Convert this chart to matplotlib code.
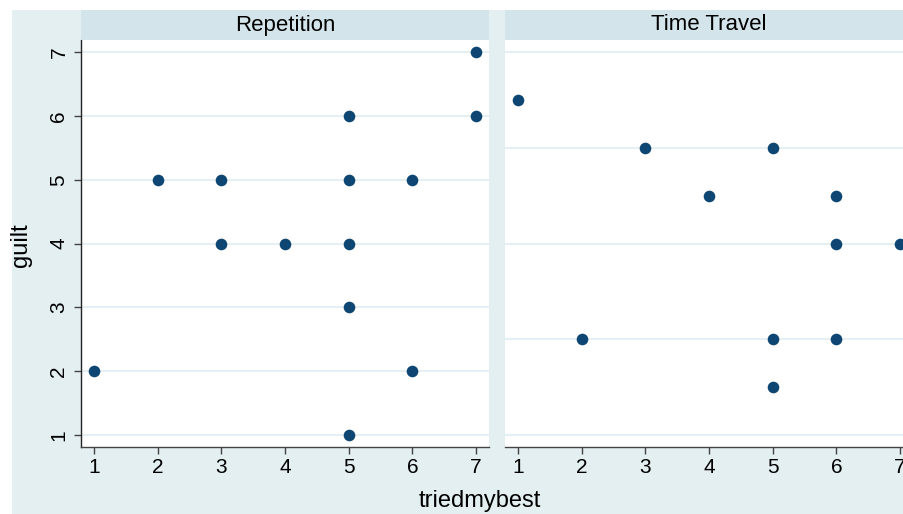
import numpy as np
import matplotlib
matplotlib.use("Agg")
import matplotlib.pyplot as plt
from matplotlib.patches import Rectangle

plt.rcParams['font.family'] = ['Liberation Sans', 'DejaVu Sans']

# data
panels = ['Repetition', 'Time Travel']
rep_x = [1, 2, 3, 3, 4, 5, 5, 5, 5, 5, 6, 6, 7, 7]
rep_y = [2, 5, 5, 4, 4, 6, 5, 4, 3, 1, 5, 2, 7, 6]
tt_x = [1, 2, 3, 4, 5, 5, 5, 6, 6, 6, 7]
tt_y = [6.25, 2.5, 5.5, 4.75, 5.5, 2.5, 1.75, 4.75, 4, 2.5, 4]
x_ticks = [1, 2, 3, 4, 5, 6, 7]
rep_grid = [1, 2, 3, 4, 5, 6, 7]
tt_grid = [1, 2.5, 4, 5.5, 7]

bg = '#E3EFF1'
strip_col = '#D3E5EB'
grid_col = '#E6EFF3'
dot = '#0E4673'
axis_col = '#444444'

W, H = 904, 514
fig = plt.figure(figsize=(W / 100, H / 100), dpi=100, facecolor='white')
fig.patches.append(Rectangle((12 / W, 0), 2, 1 - 10 / H, transform=fig.transFigure,
                             facecolor=bg, edgecolor='none', zorder=-10))

def box(x0, y0, x1, y1):
    return [x0 / W, 1 - y1 / H, (x1 - x0) / W, (y1 - y0) / H]

lefts = [81, 505]
data = [(rep_x, rep_y, rep_grid), (tt_x, tt_y, tt_grid)]

for i, (name, (xs, ys, grid)) in enumerate(zip(panels, data)):
    x0 = lefts[i]
    ax = fig.add_axes(box(x0, 40, x0 + 408, 447))
    ax.set_facecolor('white')
    ax.set_xlim(0.796, 7.204)
    ax.set_ylim(0.81, 7.19)
    for g in grid:
        ax.axhline(g, color=grid_col, lw=1.6, zorder=1)
    ax.scatter(xs, ys, s=70, color=dot, zorder=3, linewidths=0)
    for s in ['top', 'right']:
        ax.spines[s].set_visible(False)
    ax.spines['bottom'].set_color(axis_col)
    ax.spines['bottom'].set_linewidth(1.0)
    ax.set_xticks(x_ticks)
    ax.tick_params(axis='x', direction='out', length=5, width=1, color=axis_col,
                   labelsize=15, pad=3)
    if i == 0:
        ax.spines['left'].set_color('#222222')
        ax.spines['left'].set_linewidth(1.0)
        ax.set_yticks(rep_grid)
        ax.tick_params(axis='y', direction='out', length=5, width=1, color=axis_col,
                       labelsize=15, pad=4)
        for lab in ax.get_yticklabels():
            lab.set_rotation(90)
            lab.set_va('center')
    else:
        ax.spines['left'].set_visible(False)
        ax.set_yticks([])

    sax = fig.add_axes(box(x0, 10, x0 + 408, 40))
    sax.set_facecolor(strip_col)
    sax.set_xticks([])
    sax.set_yticks([])
    for s in sax.spines.values():
        s.set_visible(False)
    sax.text(0.5, 0.5, name, ha='center', va='center', fontsize=16,
             transform=sax.transAxes)

fig.text(480 / W, 1 - 501 / H, 'triedmybest', ha='center', va='center', fontsize=17)
fig.text(21 / W, 1 - 245 / H, 'guilt', ha='center', va='center', fontsize=17,
         rotation=90)

fig.savefig('out.png', dpi=100, facecolor='white')
